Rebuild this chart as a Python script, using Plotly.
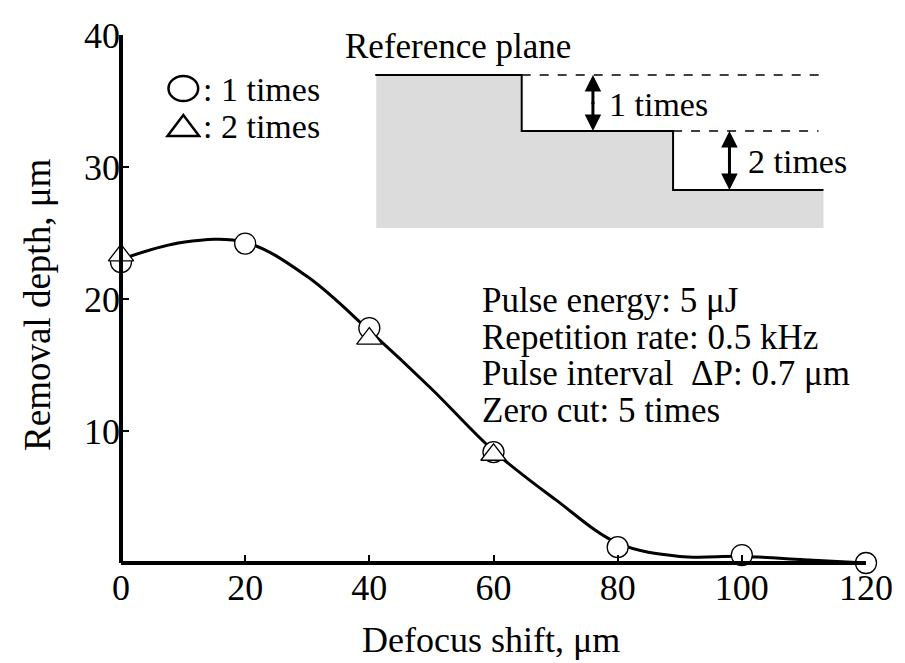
import plotly.graph_objects as go

# Removal depth vs. defocus shift
shift_1 = [0, 20, 40, 60, 80, 100, 120]
depth_1 = [22.8, 24.2, 17.8, 8.4, 1.2, 0.6, 0.0]

shift_2 = [0, 40, 60]
depth_2 = [23.3, 17.0, 8.2]

# fitted trend curve
fit_x = [0, 10, 20, 30, 40, 50, 60, 70, 80, 90, 100, 110, 120]
fit_y = [23.0, 24.3, 24.3, 21.7, 17.6, 13.2, 8.5, 4.8, 1.5, 0.5, 0.5, 0.25, 0.0]

x_ticks = [0, 20, 40, 60, 80, 100, 120]
y_ticks = [10, 20, 30, 40]

W, H = 905, 663
L, R, T, B = 121, 31, 35, 100
PW, PH = W - L - R, H - T - B

FONT = "Liberation Serif"


def px(x):
    return (x - L) / PW


def py(y):
    return (H - B - y) / PH


fig = go.Figure()

fig.add_trace(go.Scatter(
    x=fit_x, y=fit_y, mode="lines",
    line=dict(color="black", width=3, shape="spline", smoothing=1.0),
    hoverinfo="skip", cliponaxis=False,
))
fig.add_trace(go.Scatter(
    x=shift_1, y=depth_1, mode="markers", name="1 times",
    marker=dict(symbol="circle", size=21, color="white",
                line=dict(color="black", width=1.3)),
    cliponaxis=False,
))
fig.add_trace(go.Scatter(
    x=shift_2, y=depth_2, mode="markers", name="2 times",
    marker=dict(symbol="triangle-up", size=22, color="white",
                line=dict(color="black", width=1.3)),
    cliponaxis=False,
))

shapes = []
# staircase cross-section (grey body)
stair = (f"M {px(379)} {py(75)} L {px(526)} {py(75)} L {px(526)} {py(131)} "
         f"L {px(679)} {py(131)} L {px(679)} {py(190)} L {px(831)} {py(190)} "
         f"L {px(831)} {py(228)} L {px(379)} {py(228)} Z")
shapes.append(dict(type="path", xref="paper", yref="paper", path=stair,
                   fillcolor="#dcdcdc", line=dict(width=0), layer="below"))
# step outline
outline = (f"M {px(378)} {py(75)} L {px(526)} {py(75)} L {px(526)} {py(131)} "
           f"L {px(679)} {py(131)} L {px(679)} {py(190)} L {px(831)} {py(190)}")
shapes.append(dict(type="path", xref="paper", yref="paper", path=outline,
                   line=dict(color="black", width=2)))
# dashed reference levels
for x0, x1, yy in [(526, 828, 75), (679, 826, 131)]:
    shapes.append(dict(type="line", xref="paper", yref="paper",
                       x0=px(x0), x1=px(x1), y0=py(yy), y1=py(yy),
                       line=dict(color="black", width=1.5, dash="dash")))
# key symbols
shapes.append(dict(type="circle", xref="paper", yref="paper",
                   x0=px(169), x1=px(199), y0=py(101), y1=py(76),
                   line=dict(color="black", width=2.5)))
tri = (f"M {px(168)} {py(136)} L {px(200)} {py(136)} L {px(184)} {py(115)} Z")
shapes.append(dict(type="path", xref="paper", yref="paper", path=tri,
                   line=dict(color="black", width=2.5)))
# axes lines
shapes.append(dict(type="line", xref="paper", yref="paper",
                   x0=0, x1=0, y0=0, y1=1, line=dict(color="black", width=4)))
shapes.append(dict(type="line", xref="paper", yref="paper",
                   x0=0, x1=1, y0=0, y1=0, line=dict(color="black", width=4)))

annotations = []
# double-headed depth arrows
for xa, ya0, ya1 in [(598, 75, 131), (736, 131, 190)]:
    for yh, yt in [(ya0, ya1), (ya1, ya0)]:
        annotations.append(dict(
            xref="paper", yref="paper", axref="pixel", ayref="pixel",
            x=px(xa), y=py(yh), ax=0, ay=(yt - yh) * 0.55,
            showarrow=True, arrowhead=2, arrowsize=1.1, arrowwidth=3,
            arrowcolor="black", text=""))


def label(text, x, y, size=34, xanchor="left", angle=0):
    annotations.append(dict(
        xref="paper", yref="paper", x=px(x), y=py(y), text=text,
        showarrow=False, xanchor=xanchor, yanchor="middle", textangle=angle,
        font=dict(family=FONT, size=size, color="black")))


label("Reference plane", 345, 47, size=35)
label("1 times", 612, 104)
label("2 times", 753, 162)
label(": 1 times", 202, 89)
label(": 2 times", 202, 127)
label("Pulse energy: 5 μJ", 484, 300, size=35)
label("Repetition rate: 0.5 kHz", 484, 337, size=35)
label("Pulse interval  ΔP: 0.7 μm", 484, 373, size=35)
label("Zero cut: 5 times", 484, 410, size=35)
label("Defocus shift, μm", 495, 640, size=36, xanchor="center")
label("Removal depth, μm", 36, 305, size=37, xanchor="center", angle=-90)

fig.update_layout(
    width=W, height=H,
    margin=dict(l=L, r=R, t=T, b=B),
    paper_bgcolor="white", plot_bgcolor="white",
    showlegend=False,
    shapes=shapes, annotations=annotations,
    font=dict(family=FONT, size=36, color="black"),
    xaxis=dict(range=[0, 120], tickvals=x_ticks, ticks="inside", ticklen=8,
               tickwidth=2, tickcolor="black", showgrid=False, zeroline=False,
               showline=False, tickfont=dict(family=FONT, size=36)),
    yaxis=dict(range=[0, 40], tickvals=y_ticks, ticks="inside", ticklen=8,
               tickwidth=2, tickcolor="black", showgrid=False, zeroline=False,
               showline=False, tickfont=dict(family=FONT, size=36)),
)

fig.write_html("out.html")
